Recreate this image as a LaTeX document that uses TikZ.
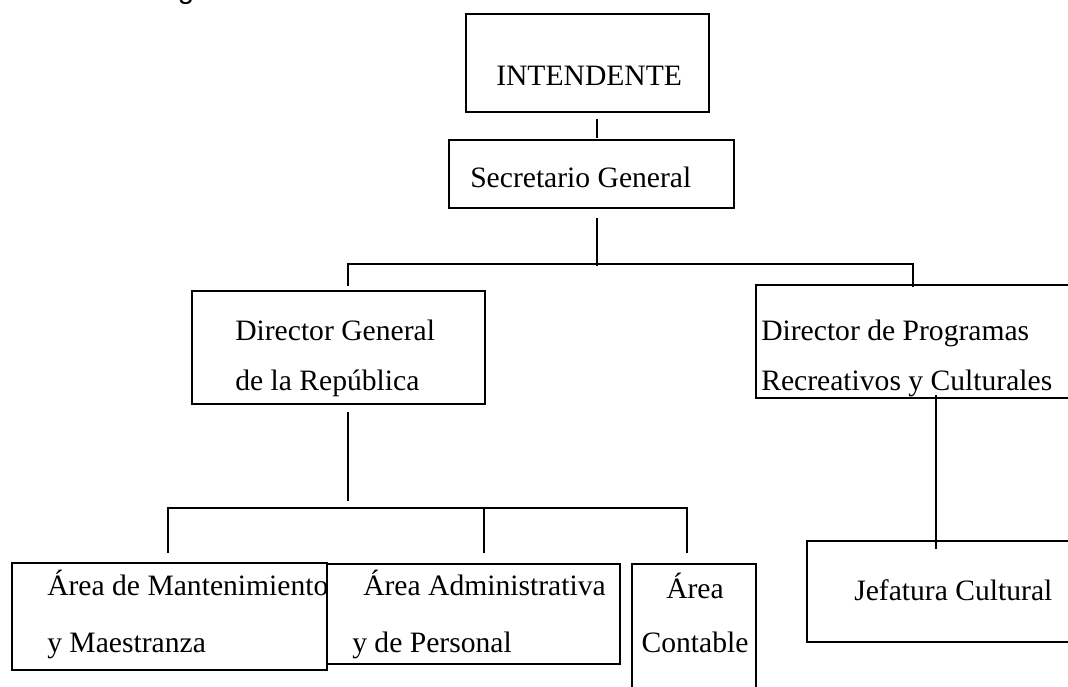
\documentclass[tikz,border=0pt]{standalone}
\usepackage{fontspec}
\setmainfont{Liberation Serif}
\setsansfont{Liberation Sans}
\usetikzlibrary{calc}
\usetikzlibrary{positioning}

\begin{document}
\begin{tikzpicture}[x=0.75pt,y=-0.75pt,
  caja/.style={draw,line width=1.5pt,anchor=north west,inner sep=0pt},
  texto/.style={anchor=base west,align=left,inner sep=0pt,font=\fontsize{22.2}{37.5}\selectfont},
  linea/.style={line width=1.5pt}]

\useasboundingbox (0,0) rectangle (1068,686);
\clip (0,0) rectangle (1068,686);

% resto del titulo, cortado arriba
\node[font=\sffamily\fontsize{22}{26}\selectfont,anchor=base,inner sep=0pt] (corte) at (186,-2) {g};

% cajas
\node[caja,minimum width=182.25pt,minimum height=73.5pt] (intendente) at (465,13) {};
\node[caja,minimum width=213.75pt,minimum height=51pt] (secretario) at (448,139) {};
\node[caja,minimum width=219.75pt,minimum height=84.75pt] (dg) at (191,290) {};
\node[caja,minimum width=251.25pt,minimum height=84.75pt] (dp) at (755,284) {};
\node[caja,minimum width=236.25pt,minimum height=80.25pt] (mant) at (11,562) {};
\node[caja,minimum width=219.75pt,minimum height=75pt] (admin) at (326,563) {};
\node[caja,minimum width=93pt,minimum height=102.75pt] (cont) at (631,563) {};
\node[caja,minimum width=213pt,minimum height=75.75pt] (jef) at (806,540) {};

% textos (base = ultima linea)
\node[texto] (tintendente) at ($(intendente.north west)+(31,72)$) {INTENDENTE};
\node[texto] (tsecretario) at ($(secretario.north west)+(22,48)$) {Secretario General};
\node[texto] (tdg) at ($(dg.north west)+(44,100)$) {Director General\\de la República};
\node[texto] (tdp) at ($(dp.north west)+(6,106)$) {Director de Programas\\Recreativos y Culturales};
\node[texto] (tmant) at ($(mant.north west)+(36,90)$) {Área de Mantenimiento\\[5.25pt]y Maestranza};
\node[texto] (tadmin) at ($(admin.north west)+(26,89)$) {\hspace*{8.25pt}Área Administrativa\\[5.25pt]y de Personal};
\node[texto,anchor=base,align=center] (tcont) at ($(cont.north west)+(64,89)$) {Área\\[3pt]Contable};
\node[texto] (tjef) at ($(jef.north west)+(48,60)$) {Jefatura Cultural};

% lineas
\draw[linea] ($(intendente.south west)+(132,6)$) -- ($(secretario.north west)+(149,-1)$);
\draw[linea] ($(secretario.south west)+(149,9)$) -- ($(secretario.south west)+(149,57)$);
\draw[linea] ($(dg.north west)+(157,-4)$) |- ($(dp.north west)+(158,-20)$) -- ($(dp.north west)+(158,3)$);
\draw[linea] ($(dg.south west)+(157,7)$) -- ($(dg.south west)+(157,96)$);
\draw[linea] ($(mant.north west)+(157,-9)$) |- ($(cont.north west)+(56,-55)$) -- ($(cont.north west)+(56,-10)$);
\draw[linea] ($(admin.north west)+(158,-55)$) -- ($(admin.north west)+(158,-10)$);
\draw[linea] ($(dp.south west)+(181,-4)$) -- ($(jef.north west)+(130,9)$);

\end{tikzpicture}
\end{document}
